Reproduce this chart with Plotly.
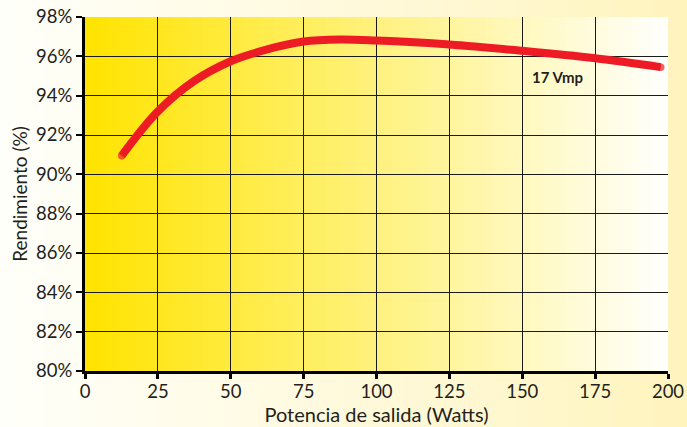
import plotly.graph_objects as go

# Data
potencia = [12.6, 25, 37.5, 50, 62.5, 75, 87.5, 100, 125, 150, 175, 197.5]
rendimiento = [90.95, 93.2, 94.75, 95.75, 96.35, 96.75, 96.85, 96.8, 96.6, 96.28, 95.9, 95.45]
x_ticks = [0, 25, 50, 75, 100, 125, 150, 175, 200]
y_ticks = [80, 82, 84, 86, 88, 90, 92, 94, 96, 98]
label_text = "17 Vmp"

W, H = 687, 427
L, R, T, B = 85, 19, 17, 56
XMIN, XMAX, YMIN, YMAX = 0, 200, 80, 98

FONT = "Lato"
TXT = "#231F20"


def lerp(c1, c2, t):
    return "rgb(%d,%d,%d)" % tuple(round(a + (b - a) * t) for a, b in zip(c1, c2))


shapes = []
pw = W - L - R
ph = H - T - B
x_left = -L / pw
x_right = 1 + R / pw
y_bot = -B / ph
y_top = 1 + T / ph
N = 80
c_out_l, c_out_r = (255, 255, 250), (255, 244, 190)
for i in range(N):
    x0 = x_left + (x_right - x_left) * i / N
    x1 = x_left + (x_right - x_left) * (i + 1) / N + 0.002
    shapes.append(dict(type="rect", xref="paper", yref="paper", x0=x0, x1=x1,
                       y0=y_bot, y1=y_top, fillcolor=lerp(c_out_l, c_out_r, i / (N - 1)),
                       line=dict(width=0), layer="below"))
c_in_l, c_in_r = (255, 228, 0), (255, 255, 252)
for i in range(N):
    x0 = XMIN + (XMAX - XMIN) * i / N
    x1 = XMIN + (XMAX - XMIN) * (i + 1) / N + 0.5
    shapes.append(dict(type="rect", xref="x", yref="y", x0=x0, x1=min(x1, XMAX),
                       y0=YMIN, y1=YMAX + 0.1, fillcolor=lerp(c_in_l, c_in_r, i / (N - 1)),
                       line=dict(width=0), layer="below"))

fig = go.Figure()
sizes = [7.5] + [0] * (len(potencia) - 2) + [7.5]
fig.add_trace(go.Scatter(
    x=potencia, y=rendimiento, mode="lines+markers",
    line=dict(color="#ED1C24", width=8, shape="spline", smoothing=1.0),
    marker=dict(size=sizes, color="#ED1C24", line=dict(width=0)),
    hoverinfo="skip", showlegend=False, cliponaxis=False,
))

fig.add_annotation(x=162, y=94.95, text="<b>%s</b>" % label_text, showarrow=False,
                   font=dict(family=FONT, size=15, color=TXT), xanchor="center", yanchor="middle")

fig.update_layout(
    width=W, height=H,
    margin=dict(l=L, r=R, t=T, b=B, pad=0),
    paper_bgcolor="rgba(0,0,0,0)",
    plot_bgcolor="rgba(0,0,0,0)",
    shapes=shapes,
    font=dict(family=FONT, color=TXT, size=18),
    xaxis=dict(
        range=[XMIN, XMAX], tickvals=x_ticks, ticktext=[str(v) for v in x_ticks],
        showgrid=True, gridcolor="#1a1a1a", gridwidth=1,
        showline=True, linecolor="#000", linewidth=3,
        ticks="outside", ticklen=5, tickwidth=3, tickcolor="#000",
        ticklabelstandoff=-3,
        tickfont=dict(family=FONT, size=18.5, color=TXT),
        title=dict(text="Potencia de salida (Watts)", font=dict(family=FONT, size=20, color=TXT), standoff=5),
        zeroline=False, fixedrange=True, automargin=False,
    ),
    yaxis=dict(
        range=[YMIN, YMAX], tickvals=y_ticks, ticktext=["%d%%" % v for v in y_ticks],
        showgrid=True, gridcolor="#1a1a1a", gridwidth=1,
        showline=True, linecolor="#000", linewidth=3,
        ticks="outside", ticklen=6, tickwidth=2, tickcolor="#000",
        tickfont=dict(family=FONT, size=18.5, color=TXT),
        title=dict(text="Rendimiento (%)", font=dict(family=FONT, size=19, color=TXT), standoff=4),
        zeroline=False, fixedrange=True, automargin=False,
    ),
)

fig.write_html("out.html", config={"displayModeBar": False},
               post_script="document.body.style.margin='0';document.body.style.padding='0';")
